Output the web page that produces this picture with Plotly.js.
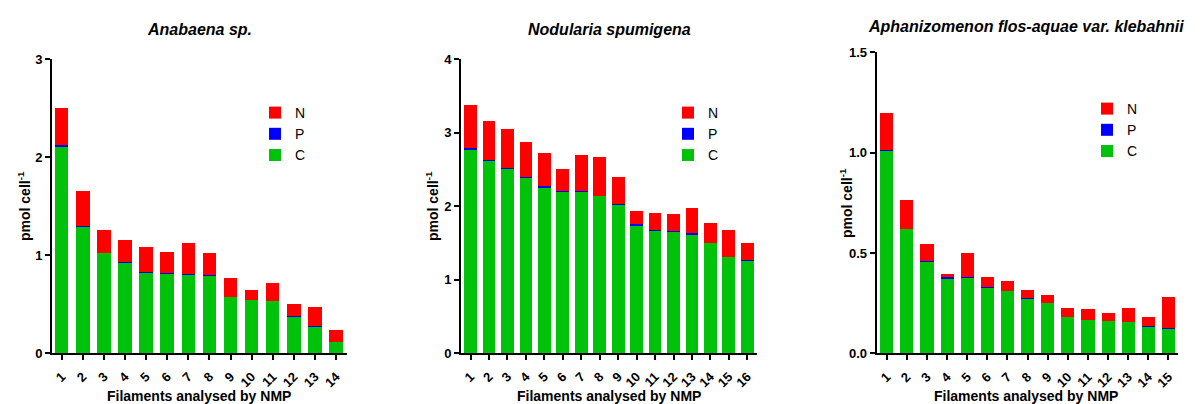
<!DOCTYPE html>
<html>
<head>
<meta charset="utf-8">
<script src="https://cdn.plot.ly/plotly-3.0.1.min.js"></script>
<style>html,body{margin:0;padding:0;background:#fff;}#chart{width:1204px;height:404px;}</style>
</head>
<body>
<div id="chart"></div>
<script>
// ---------- Data ----------
var titles = ['Anabaena sp.', 'Nodularia spumigena', 'Aphanizomenon flos-aquae var. klebahnii'];
var xTitle = 'Filaments analysed by NMP';
var yTitle = 'pmol cell<sup>-1</sup>';
var seriesNames = ['C', 'P', 'N'];

var cats1 = ['1','2','3','4','5','6','7','8','9','10','11','12','13','14'];
var C1 = [2.10,1.29,1.02,0.92,0.82,0.81,0.80,0.79,0.57,0.54,0.53,0.37,0.27,0.115];
var P1 = [0.02,0.01,0.005,0.005,0.005,0.005,0.005,0.005,0.005,0.005,0.005,0.003,0.003,0.002];
var N1 = [0.38,0.35,0.235,0.225,0.255,0.215,0.315,0.225,0.195,0.095,0.175,0.127,0.197,0.113];

var cats2 = ['1','2','3','4','5','6','7','8','9','10','11','12','13','14','15','16'];
var C2 = [2.76,2.61,2.51,2.38,2.24,2.19,2.19,2.13,2.02,1.73,1.66,1.65,1.61,1.49,1.30,1.25];
var P2 = [0.03,0.02,0.01,0.02,0.03,0.01,0.02,0.01,0.01,0.03,0.01,0.01,0.02,0.005,0.005,0.02];
var N2 = [0.58,0.53,0.53,0.47,0.45,0.31,0.49,0.52,0.36,0.17,0.23,0.23,0.34,0.275,0.365,0.22];

var cats3 = ['1','2','3','4','5','6','7','8','9','10','11','12','13','14','15'];
var C3 = [1.01,0.618,0.456,0.372,0.377,0.327,0.309,0.272,0.249,0.181,0.164,0.161,0.156,0.133,0.123];
var P3 = [0.004,0.002,0.002,0.008,0.002,0.002,0.002,0.002,0.002,0.002,0.002,0.002,0.002,0.002,0.003];
var N3 = [0.186,0.142,0.088,0.015,0.122,0.050,0.051,0.040,0.041,0.043,0.056,0.038,0.068,0.046,0.156];

var yTicks1 = [0,1,2,3];
var yTicks2 = [0,1,2,3,4];
var yTicks3 = [0,0.5,1.0,1.5];
var yTickText3 = ['0.0','0.5','1.0','1.5'];

// ---------- Styles ----------
var colors = {C:'#00c20a', P:'#0000ff', N:'#ff0000'};
var FONT = 'Liberation Sans, Arial, Helvetica, sans-serif';
var W = 1204, H = 404;
function px(x){return x/W;}
function py(y){return (H-y)/H;}

var panels = [
  {cats:cats1, C:C1, P:P1, N:N1, width:0.64, xa:'x',  ya:'y',  leg:'legend'},
  {cats:cats2, C:C2, P:P2, N:N2, width:0.69, xa:'x2', ya:'y2', leg:'legend2'},
  {cats:cats3, C:C3, P:P3, N:N3, width:0.65, xa:'x3', ya:'y3', leg:'legend3'}
];

var data = [];
panels.forEach(function(p){
  seriesNames.forEach(function(s){
    data.push({
      type:'bar', name:s, x:p.cats, y:p[s], width:p.width,
      xaxis:p.xa, yaxis:p.ya, legend:p.leg,
      marker:{color:colors[s], line:{width:0}},
      hoverinfo:'x+y+name'
    });
  });
});

function xAxis(domain, range, anchor){
  return {domain:domain, range:range, anchor:anchor, type:'category',
    showline:true, linecolor:'#000', linewidth:2, mirror:false,
    ticks:'outside', ticklen:5, tickwidth:2, tickcolor:'#000',
    showgrid:false, zeroline:false, tickangle:-45, ticklabelstandoff:4,
    tickfont:{family:FONT, size:13, color:'#000', weight:'bold'}, fixedrange:true};
}
function yAxis(domain, range, anchor, tv, tt){
  var a = {domain:domain, range:range, anchor:anchor,
    showline:true, linecolor:'#000', linewidth:2,
    ticks:'outside', ticklen:5, tickwidth:2, tickcolor:'#000',
    showgrid:false, zeroline:false, tickmode:'array', tickvals:tv,
    tickfont:{family:FONT, size:13, color:'#000', weight:'bold'}, fixedrange:true};
  if (tt) a.ticktext = tt;
  return a;
}
function legend(x, y){
  return {x:px(x), y:py(y), xanchor:'left', yanchor:'top', xref:'paper', yref:'paper',
    traceorder:'reversed', bgcolor:'rgba(0,0,0,0)', borderwidth:0,
    font:{family:FONT, size:14, color:'#000'}};
}

var annotations = [];
var titleX = [199, 609, 1026], titleY = [30, 30, 27];
var yTitleX = [24, 432, 846], yTitleY = [206, 206, 203];
for (var i=0;i<3;i++){
  annotations.push({text:'<b><i>'+titles[i]+'</i></b>', x:px(titleX[i]), y:py(titleY[i]),
    xref:'paper', yref:'paper', xanchor:'center', yanchor:'middle', showarrow:false,
    font:{family:FONT, size:16, color:'#000'}});
  annotations.push({text:'<b>'+xTitle+'</b>', x:px(titleX[i]), y:py(386),
    xref:'paper', yref:'paper', xanchor:'center', yanchor:'top', showarrow:false,
    font:{family:FONT, size:14, color:'#000'}});
  annotations.push({text:'<b>'+yTitle+'</b>', x:px(yTitleX[i]), y:py(yTitleY[i]), textangle:-90,
    xref:'paper', yref:'paper', xanchor:'center', yanchor:'middle', showarrow:false,
    font:{family:FONT, size:14, color:'#000'}});
}

var layout = {
  width:W, height:H, margin:{l:0,r:0,t:0,b:0},
  paper_bgcolor:'#fff', plot_bgcolor:'#fff',
  barmode:'stack', showlegend:true,
  xaxis:  xAxis([px(52), px(347)],    [-0.46, 13.52], 'y'),
  xaxis2: xAxis([px(461), px(756.7)], [-0.52, 15.51], 'y2'),
  xaxis3: xAxis([px(876.7), px(1177.7)], [-0.5, 14.46], 'y3'),
  yaxis:  yAxis([py(353), py(59)],    [0, 3],   'x',  yTicks1),
  yaxis2: yAxis([py(353), py(59)],    [0, 4],   'x2', yTicks2),
  yaxis3: yAxis([py(353.3), py(52.3)], [0, 1.5], 'x3', yTicks3, yTickText3),
  legend:  legend(255, 97),
  legend2: legend(668, 97),
  legend3: legend(1087, 93),
  annotations:annotations
};

Plotly.newPlot('chart', data, layout, {displayModeBar:false, staticPlot:true});
</script>
</body>
</html>
